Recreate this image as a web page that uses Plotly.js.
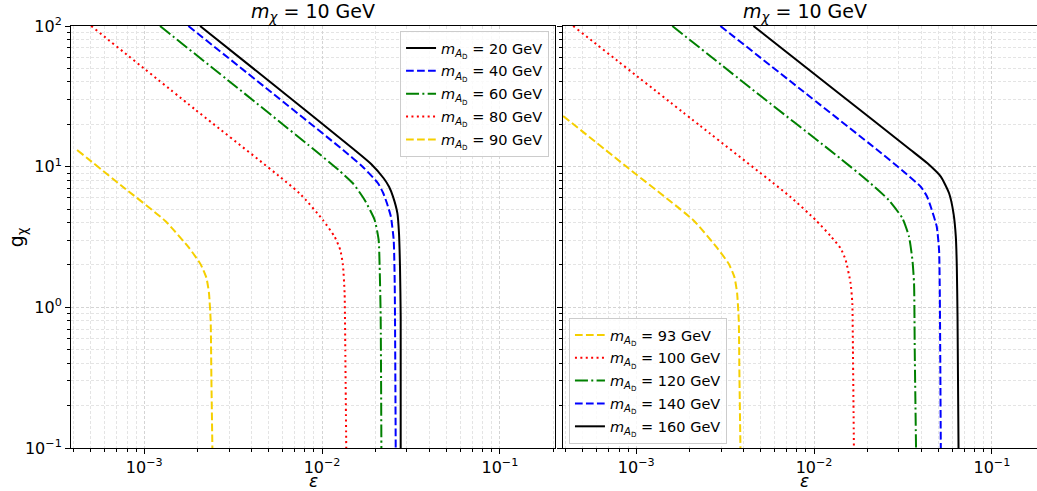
<!DOCTYPE html>
<html>
<head>
<meta charset="utf-8">
<script src="https://cdn.plot.ly/plotly-3.0.1.min.js"></script>
<style>
  html, body { margin: 0; padding: 0; overflow: hidden; background: #fff; }
  #chart { width: 1050px; height: 491px; }
</style>
</head>
<body>
<div id="chart"></div>
<script>
// ---------- data ----------
// left panel, m_chi = 10 GeV
const massesLeft = [20, 40, 60, 80, 90];
const eps_20 = [2.06e-3, 5.63e-3, 0.01524, 0.01888, 0.02220, 0.02385, 0.02506, 0.02653, 0.02708, 0.02743, 0.02768, 0.02768];
const g_20   = [100, 36.26, 13.14, 10.45, 8.27, 7.17, 6.12, 4.66, 3.36, 1.945, 0.858, 0.1];
const eps_40 = [1.770e-3, 4.835e-3, 0.01313, 0.01691, 0.02063, 0.02206, 0.02317, 0.02438, 0.02528, 0.02562, 0.02595];
const g_40   = [100, 36.26, 13.14, 10.0, 7.62, 6.50, 5.49, 4.41, 3.01, 1.482, 0.1];
const eps_60 = [1.226e-3, 3.35e-3, 9.07e-3, 0.01239, 0.01491, 0.01736, 0.01976, 0.02081, 0.02108, 0.02136, 0.02156];
const g_60   = [100, 36.26, 13.14, 9.47, 7.62, 5.80, 4.18, 3.01, 1.945, 0.858, 0.1];
const eps_80 = [5.03e-4, 1.938e-3, 7.47e-3, 0.01010, 0.01176, 0.01266, 0.01310, 0.01339, 0.01351, 0.01368];
const g_80   = [100, 25.41, 6.47, 4.18, 3.18, 2.556, 2.0, 1.258, 0.497, 0.1];
const eps_90 = [4.19e-4, 7.42e-4, 1.313e-3, 1.783e-3, 2.076e-3, 2.235e-3, 2.311e-3, 2.363e-3, 2.385e-3, 2.416e-3];
const g_90   = [13.14, 7.35, 4.11, 2.655, 2.02, 1.625, 1.271, 0.804, 0.316, 0.1];

// right panel, m_chi = 10 GeV
const massesRight = [93, 100, 120, 140, 160];
const eps_93  = [3.88e-4, 9.01e-4, 2.095e-3, 2.844e-3, 3.311e-3, 3.566e-3, 3.689e-3, 3.771e-3, 3.805e-3, 3.854e-3];
const g_93    = [22.92, 9.77, 4.16, 2.655, 2.04, 1.64, 1.27, 0.81, 0.316, 0.1];
const eps_100 = [4.416e-4, 2.294e-3, 7.37e-3, 0.01020, 0.01239, 0.01410, 0.01505, 0.01605, 0.01641, 0.01654, 0.01675];
const g_100   = [100, 19.46, 6.09, 4.18, 3.21, 2.63, 2.17, 1.482, 1.068, 0.497, 0.1];
const eps_120 = [1.595e-3, 4.39e-3, 0.01401, 0.01976, 0.02628, 0.03140, 0.03420, 0.03574, 0.03650, 0.03683, 0.03745];
const g_120   = [100, 36.26, 11.47, 8.04, 5.80, 4.30, 3.18, 2.17, 1.482, 0.497, 0.1];
const eps_140 = [2.972e-3, 8.21e-3, 0.02270, 0.03112, 0.03981, 0.04303, 0.04532, 0.04898, 0.05047, 0.05093, 0.05161];
const g_140   = [100, 36.26, 13.14, 9.47, 7.20, 6.19, 5.19, 3.74, 2.556, 1.328, 0.1];
const eps_160 = [4.56e-3, 0.01263, 0.03497, 0.04342, 0.05161, 0.05746, 0.06084, 0.06269, 0.06350, 0.06409, 0.06493];
const g_160   = [100, 36.26, 13.14, 10.56, 8.49, 6.47, 4.66, 3.18, 1.945, 0.858, 0.1];

// tick labels
const xTickVals = [1e-3, 1e-2, 1e-1];
const xTickText = ["10<sup>−3</sup>", "10<sup>−2</sup>", "10<sup>−1</sup>"];
const yTickVals = [0.1, 1, 10, 100];
const yTickText = ["10<sup>−1</sup>", "10<sup>0</sup>", "10<sup>1</sup>", "10<sup>2</sup>"];

const titleText = "<i>m</i><sub><i>χ</i></sub> = 10 GeV";
const xTitle = "<i>ε</i>";
const yTitle = "g<sub>χ</sub>";

// ---------- styles ----------
const FONT = "DejaVu Sans, Verdana, sans-serif";
const DASH = "7.7px,3.3px";
const DASHDOT = "13px,3.3px,2px,3.3px";
const DOT = "2px,3.4px";
const W = 2;
const GOLD = "#f5cf00";

function label(m) {
  return "<i>m</i><sub><i>A</i><sub>D</sub></sub> = " + m + " GeV";
}
let gid = 0;
function tr(x, y, m, color, dash, xa, ya, leg) {
  gid += 1;
  return {
    x: x, y: y, type: "scatter", mode: "lines",
    name: label(m), xaxis: xa, yaxis: ya, legend: leg, legendgroup: "g" + gid,
    line: { color: color, width: W, dash: dash, shape: "spline", smoothing: 0.5 },
    hoverinfo: "skip"
  };
}

const data = [
  tr(eps_20, g_20, massesLeft[0], "#000000", "solid", "x", "y", "legend"),
  tr(eps_40, g_40, massesLeft[1], "#0000ff", DASH, "x", "y", "legend"),
  tr(eps_60, g_60, massesLeft[2], "#008000", DASHDOT, "x", "y", "legend"),
  tr(eps_80, g_80, massesLeft[3], "#ff0000", DOT, "x", "y", "legend"),
  tr(eps_90, g_90, massesLeft[4], GOLD, DASH, "x", "y", "legend"),
  tr(eps_93, g_93, massesRight[0], GOLD, DASH, "x2", "y2", "legend2"),
  tr(eps_100, g_100, massesRight[1], "#ff0000", DOT, "x2", "y2", "legend2"),
  tr(eps_120, g_120, massesRight[2], "#008000", DASHDOT, "x2", "y2", "legend2"),
  tr(eps_140, g_140, massesRight[3], "#0000ff", DASH, "x2", "y2", "legend2"),
  tr(eps_160, g_160, massesRight[4], "#000000", "solid", "x2", "y2", "legend2")
];

function axisBase() {
  return {
    type: "log",
    showline: true, mirror: true, linecolor: "#000", linewidth: 1,
    ticks: "outside", ticklen: 5, tickwidth: 1, tickcolor: "#000",
    showgrid: true, gridcolor: "#d4d4d4", gridwidth: 1, griddash: "3px,2px",
    zeroline: false,
    tickfont: { family: FONT, size: 16, color: "#000" },
    minor: { ticks: "outside", ticklen: 3, tickwidth: 1, tickcolor: "#000", dtick: "D1",
             showgrid: true, gridcolor: "#e4e4e4", gridwidth: 1, griddash: "3px,2px" }
  };
}
const XR = [-3.412, -0.69];
const xt = { tickmode: "array", tickvals: xTickVals, ticktext: xTickText };
const yt = { tickmode: "array", tickvals: yTickVals, ticktext: yTickText };
const xaxis = Object.assign(axisBase(), xt, { range: XR, domain: [0, 0.4959], anchor: "y" });
const xaxis2 = Object.assign(axisBase(), xt, { range: XR, domain: [0.5041, 1], anchor: "y2" });
const yaxis = Object.assign(axisBase(), yt, { range: [-1, 2], anchor: "x" });
const yaxis2 = Object.assign(axisBase(), yt, { range: [-1, 2], anchor: "x2", showticklabels: false });

const legStyle = {
  bgcolor: "rgba(255,255,255,0.8)", bordercolor: "#cccccc", borderwidth: 1,
  font: { family: FONT, size: 14.5, color: "#000" },
  traceorder: "grouped", tracegroupgap: 1
};

const layout = {
  width: 1050, height: 491,
  margin: { l: 71, r: 3, t: 26, b: 43 },
  paper_bgcolor: "#fff", plot_bgcolor: "#fff",
  font: { family: FONT, color: "#000" },
  xaxis: xaxis, xaxis2: xaxis2, yaxis: yaxis, yaxis2: yaxis2,
  legend: Object.assign({}, legStyle, { x: 0.4898, xanchor: "right", y: 0.988, yanchor: "top" }),
  legend2: Object.assign({}, legStyle, { x: 0.5102, xanchor: "left", y: 0.0095, yanchor: "bottom" }),
  annotations: [
    { text: titleText, xref: "paper", yref: "paper", x: 0.2480, y: 1.031, xanchor: "center", yanchor: "middle", showarrow: false, font: { family: FONT, size: 19 } },
    { text: titleText, xref: "paper", yref: "paper", x: 0.7520, y: 1.031, xanchor: "center", yanchor: "middle", showarrow: false, font: { family: FONT, size: 19 } },
    { text: xTitle, xref: "paper", yref: "paper", x: 0.2480, y: -0.079, xanchor: "center", yanchor: "middle", showarrow: false, font: { family: FONT, size: 17 } },
    { text: xTitle, xref: "paper", yref: "paper", x: 0.7520, y: -0.079, xanchor: "center", yanchor: "middle", showarrow: false, font: { family: FONT, size: 17 } },
    { text: yTitle, xref: "paper", yref: "paper", x: -0.055, y: 0.5, xanchor: "center", yanchor: "middle", textangle: -90, showarrow: false, font: { family: FONT, size: 19 } }
  ]
};

Plotly.newPlot("chart", data, layout, { displayModeBar: false, staticPlot: true });
</script>
</body>
</html>
